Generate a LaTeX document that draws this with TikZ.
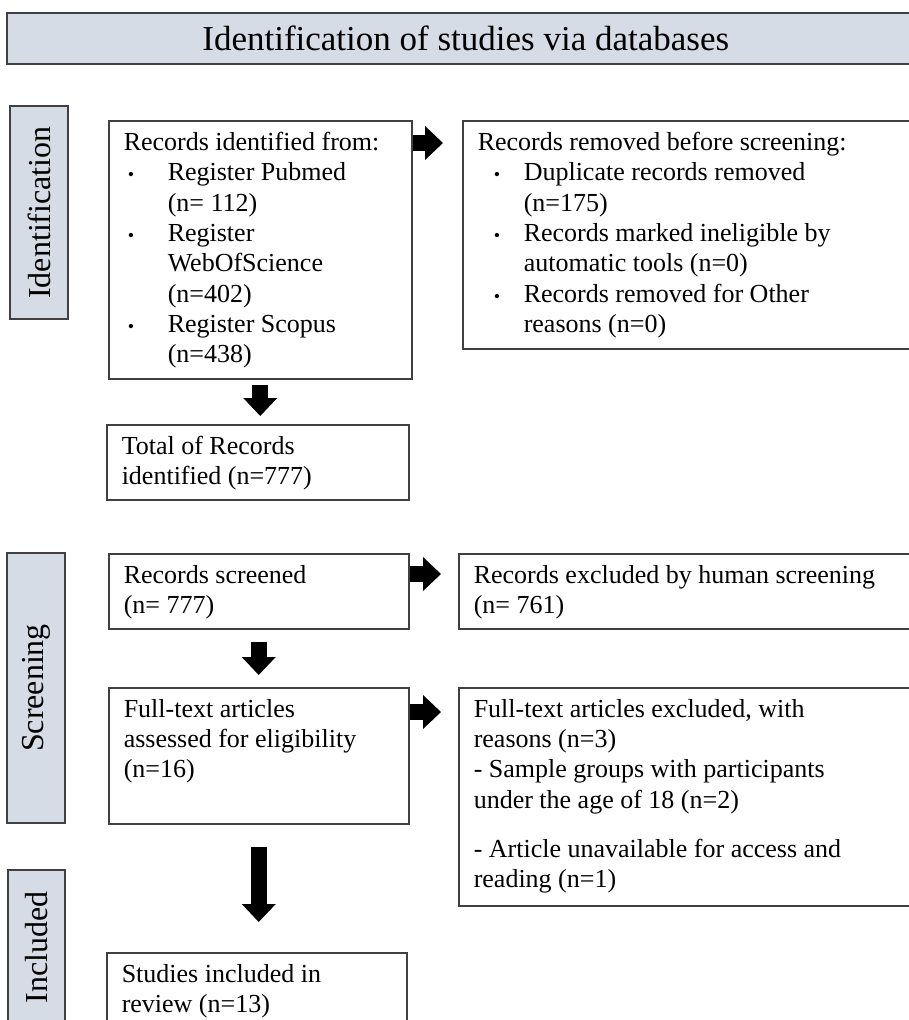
\documentclass[tikz,border=0pt]{standalone}
\usepackage{fontspec}
\setmainfont{Liberation Serif}
\usetikzlibrary{arrows.meta,calc}
\definecolor{headfill}{HTML}{D6DCE5}
\definecolor{edgecol}{HTML}{404040}
\newcommand{\bulA}{\makebox[44pt][l]{\hspace{4pt}{\fontsize{18}{18}\selectfont •}}}
\newcommand{\indA}{\hspace*{44pt}}
\newcommand{\bulB}{\makebox[46pt][l]{\hspace{16pt}{\fontsize{18}{18}\selectfont •}}}
\newcommand{\indB}{\hspace*{46pt}}
\begin{document}
\begin{tikzpicture}[x=1pt,y=-1pt,
  box/.style={draw=edgecol, line width=1.5pt, fill=white, inner xsep=15pt, inner ysep=11.5pt, anchor=north west, font=\fontsize{26}{30.3}\selectfont},
  stage/.style={draw=edgecol, line width=1.5pt, fill=headfill, rotate=90, inner sep=0pt, font=\fontsize{32}{36}\selectfont},
  head/.style={draw=edgecol, line width=1.5pt, fill=headfill, inner sep=0pt, anchor=north west, font=\fontsize{35}{40}\selectfont},
  blockarrow/.style={line width=16pt, -{Triangle[length=18pt,width=34pt,line width=0pt]}}]
\useasboundingbox (0,0) rectangle (909,1020);
\clip (0,0) rectangle (909,1020);

% header
\node[head, minimum width=918pt, minimum height=51pt] (title) at (6,12) {Identification of studies via databases};

% stage labels
\node[stage, minimum width=213pt, minimum height=58pt] (idl) at (39,212.5) {Identification};
\node[stage, minimum width=270pt, minimum height=58pt] (scl) at (36,688) {Screening};
\node[stage, minimum width=155pt, minimum height=57pt] (inl) at (36.5,947.5) {Included};

% boxes
\node[box] (n1) at (108,120) {\parbox[c][235pt][t]{273pt}{%
Records identified from:\\
\bulA Register Pubmed\\
\indA (n= 112)\\
\bulA Register\\
\indA WebOfScience\\
\indA (n=402)\\
\bulA Register Scopus\\
\indA (n=438)}};

\node[box] (r1) at (462,120) {\parbox[c][205pt][t]{423pt}{%
Records removed before screening:\\
\bulB Duplicate records removed\\
\indB (n=175)\\
\bulB Records marked ineligible by\\
\indB automatic tools (n=0)\\
\bulB Records removed for Other\\
\indB reasons (n=0)}};

\node[box] (tot) at (106,424) {\parbox[c][52pt][t]{272pt}{%
Total of Records\\
identified (n=777)}};

\node[box] (rs) at (108,553) {\parbox[c][52pt][t]{270pt}{%
Records screened\\
(n= 777)}};

\node[box] (re) at (458,553) {\parbox[c][52pt][t]{427pt}{%
Records excluded by human screening\\
(n= 761)}};

\node[box] (ft) at (108,687) {\parbox[c][113pt][t]{270pt}{%
Full-text articles\\
assessed for eligibility\\
(n=16)}};

\node[box] (fe) at (458,687) {\parbox[c][195pt][t]{427pt}{%
Full-text articles excluded, with\\
reasons (n=3)\\
- Sample groups with participants\\
under the age of 18 (n=2)\\[19pt]
- Article unavailable for access and\\
reading (n=1)}};

\node[box] (st) at (106,952) {\parbox[c][77pt][t]{270pt}{%
Studies included in\\
review (n=13)}};

% connectors
\draw[blockarrow, shorten >=19pt] ($(n1.north east)+(0,23)$) -- ($(r1.north west)+(0,23)$);
\draw[blockarrow, shorten <=5pt, shorten >=8pt] (n1.south) -- (n1.south |- tot.north);
\draw[blockarrow, shorten >=17pt] ($(rs.north east)+(0,21)$) -- ($(re.north west)+(0,21)$);
\draw[blockarrow, shorten <=12pt, shorten >=12pt] (rs.south) -- (ft.north);
\draw[blockarrow, shorten >=17pt] ($(ft.north east)+(0,25)$) -- ($(fe.north west)+(0,25)$);
\draw[blockarrow, shorten <=22pt, shorten >=30pt] (ft.south) -- (ft.south |- st.north);
\end{tikzpicture}
\end{document}
